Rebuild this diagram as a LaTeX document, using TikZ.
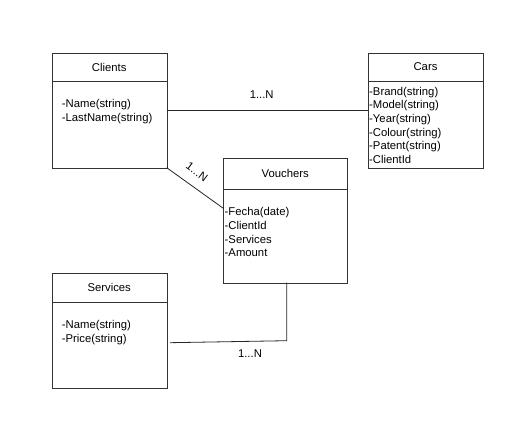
\documentclass[tikz,border=0pt]{standalone}
\usepackage{fontspec}
\setmainfont{Liberation Sans}
\begin{document}
\begin{tikzpicture}[x=1pt,y=-1pt,
  umlbox/.style={draw=black!80, line width=0.8pt, anchor=north west, inner sep=0pt},
  title/.style={font=\fontsize{11.3}{13}\selectfont, anchor=center, inner sep=0pt},
  attr/.style={font=\fontsize{11.3}{13.6}\selectfont, anchor=north west, inner sep=0pt, align=left},
  conn/.style={draw=black!85, line width=0.8pt},
  lbl/.style={font=\fontsize{11.3}{13}\selectfont, inner sep=0pt}]
\useasboundingbox (0,0) rectangle (524,433);
% Clients
\node[umlbox, minimum width=115pt, minimum height=115pt] (clients) at (51.7,52.7) {};
\draw[black!80, line width=0.8pt] (51.7,81.7) -- (166.7,81.7);
\node[title] (clientsT) at (109.2,67) {Clients};
\node[attr] (clientsA) at (61.7,99.5) {-Name(string)\\-LastName(string)};
% Cars
\node[umlbox, minimum width=115.6pt, minimum height=115pt] (cars) at (367.7,52.7) {};
\draw[black!80, line width=0.8pt] (367.7,81.7) -- (483.3,81.7);
\node[title] (carsT) at (425.5,67) {Cars};
\node[attr] (carsA) at (369,87) {-Brand(string)\\-Model(string)\\-Year(string)\\-Colour(string)\\-Patent(string)\\-ClientId};
% Vouchers
\node[umlbox, minimum width=124pt, minimum height=124.4pt] (vouchers) at (223.3,158.3) {};
\draw[black!80, line width=0.8pt] (223.3,189.3) -- (347.3,189.3);
\node[title] (vouchersT) at (285.3,173) {Vouchers};
\node[attr] (vouchersA) at (224.5,207.5) {-Fecha(date)\\-ClientId\\-Services\\-Amount};
% Services
\node[umlbox, minimum width=115pt, minimum height=115pt] (services) at (51.7,273.3) {};
\draw[black!80, line width=0.8pt] (51.7,302.3) -- (166.7,302.3);
\node[title] (servicesT) at (109.2,287.5) {Services};
\node[attr] (servicesA) at (61.7,320.5) {-Name(string)\\-Price(string)};
% connectors
\coordinate (c1) at (166.7,110.5);
\coordinate (c2) at (367.7,110.5);
\draw[conn] (c1) -- (c2);
\node[lbl] (l1) at (261.7,95) {1...N};
\coordinate (d1) at (166.7,167.7);
\coordinate (d2) at (223.3,208.3);
\draw[conn] (d1) -- (d2);
\node[lbl, rotate=-37] (l2) at (197,172) {1...N};
\coordinate (e1) at (170,342.7);
\coordinate (e2) at (286.7,340.7);
\coordinate (e3) at (286.7,282.7);
\draw[conn] (e1) -- (e2) -- (e3);
\node[lbl] (l3) at (250,354) {1...N};
\end{tikzpicture}
\end{document}
